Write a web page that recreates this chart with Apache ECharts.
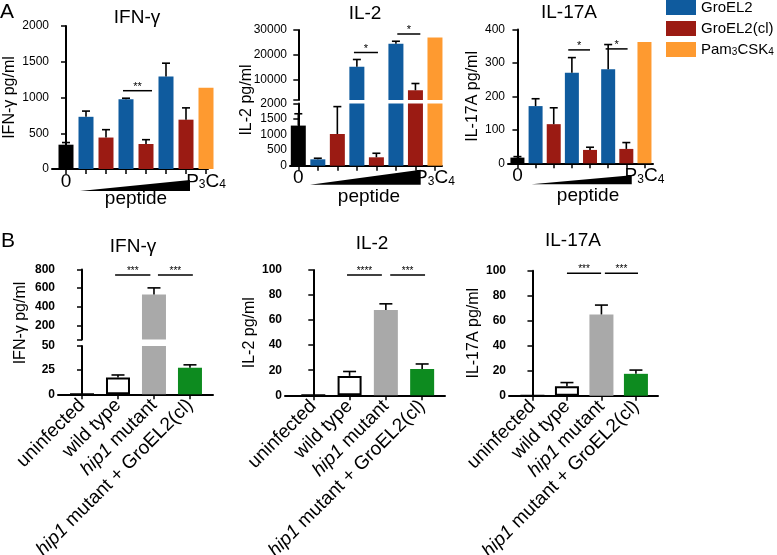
<!DOCTYPE html>
<html><head><meta charset="utf-8">
<script src="https://cdn.jsdelivr.net/npm/echarts@6/dist/echarts.min.js"></script>
<style>html,body{margin:0;padding:0;background:#fff}#c{width:777px;height:555px}</style>
</head><body><div id="c"></div>
<script>
// ---------------- data ----------------
const aCategories = ['0', '1', '2', '3', '4', '5', '6', 'P3C4'];
const aGroups = ['medium', 'GroEL2', 'GroEL2(cl)', 'GroEL2', 'GroEL2(cl)', 'GroEL2', 'GroEL2(cl)', 'Pam3CSK4'];
const ifngA = [340, 730, 440, 975, 350, 1295, 690, 1135];
const ifngAErr = [30, 80, 110, 15, 60, 185, 165, 0];
const il2A = [1290, 205, 1020, 15300, 270, 24500, 5900, 27000];
const il2AErr = [380, 35, 880, 2900, 130, 1000, 2700, 0];
const il17aA = [17, 171, 117, 271, 40, 281, 43, 363];
const il17aAErr = [3, 22, 49, 45, 8, 74, 19, 0];

const bCategories = ['uninfected', 'wild type', 'hip1 mutant', 'hip1 mutant + GroEL2(cl)'];
const bGroups = ['uninfected', 'wild type', 'hip1 mutant', 'complemented'];
const ifngB = [0, 17.5, 533, 27.5];
const ifngBErr = [0, 2.5, 70, 3];
const il2B = [0, 15.5, 68, 21];
const il2BErr = [0, 3.5, 5, 4];
const il17aB = [0, 7.5, 65, 17.5];
const il17aBErr = [0, 3, 7.5, 3];

const ifngATicks = [0, 500, 1000, 1500, 2000];
const il2ALowTicks = [0, 500, 1000, 1500, 2000];
const il2AHighTicks = [10000, 20000, 30000];
const il17aATicks = [0, 100, 200, 300, 400];
const ifngBLowTicks = [0, 25, 50];
const ifngBHighTicks = [200, 400, 600, 800];
const il2BTicks = [0, 20, 40, 60, 80, 100];
const il17aBTicks = [0, 20, 40, 60, 80, 100];

const legendNames = ['GroEL2', 'GroEL2(cl)', 'Pam3CSK4'];
const titlesA = ['IFN-γ', 'IL-2', 'IL-17A'];
const titlesB = ['IFN-γ', 'IL-2', 'IL-17A'];
const yNamesA = ['IFN-γ pg/ml', 'IL-2 pg/ml', 'IL-17A pg/ml'];
const yNamesB = ['IFN-γ pg/ml', 'IL-2 pg/ml', 'IL-17A pg/ml'];
const doseLabel = 'peptide';

const sigIfngA = [{from: 2.85, to: 4.3, y: 1095, text: '**'}];
const sigIl2A = [{from: 2.85, to: 4.08, y: 21000, text: '*'}, {from: 5.07, to: 6.25, y: 28400, text: '*'}];
const sigIl17aA = [{from: 2.8, to: 4.0, y: 339, text: '*'}, {from: 4.86, to: 6.07, y: 342, text: '*'}];
const sigIfngB = [{from: 0.92, to: 1.9, y: 740, text: '***'}, {from: 2.11, to: 3.08, y: 740, text: '***'}];
const sigIl2B = [{from: 0.93, to: 1.89, y: 96, text: '****'}, {from: 2.12, to: 3.08, y: 96, text: '***'}];
const sigIl17aB = [{from: 1.0, to: 1.99, y: 98, text: '***'}, {from: 2.1, to: 3.06, y: 98, text: '***'}];

// ---------------- layout & style ----------------
const FONT = "'Liberation Sans', Arial, sans-serif";
const COLORS_A = {
  'medium': {color: '#000000'},
  'GroEL2': {color: '#0f5b9e'},
  'GroEL2(cl)': {color: '#9b1b13'},
  'Pam3CSK4': {color: '#fe9a30'}
};
const STYLE_B = {
  'uninfected': {color: '#ffffff', borderColor: '#000', borderWidth: 2},
  'wild type': {color: '#ffffff', borderColor: '#000', borderWidth: 2},
  'hip1 mutant': {color: '#a9a9a9'},
  'complemented': {color: '#0d8b1f'}
};
const gridDefs = [
  {left: 52, top: 26, width: 156, height: 143},      // 0 A IFN-γ
  {left: 290, top: 103.5, width: 152, height: 62.2}, // 1 A IL-2 low
  {left: 290, top: 30, width: 152, height: 70},      // 2 A IL-2 high
  {left: 508, top: 29.5, width: 145, height: 133.8}, // 3 A IL-17A
  {left: 58, top: 346, width: 155, height: 48.3},    // 4 B IFN-γ low
  {left: 58, top: 269.5, width: 155, height: 70},    // 5 B IFN-γ high
  {left: 285, top: 270, width: 160, height: 125.3},  // 6 B IL-2
  {left: 509, top: 270.7, width: 149, height: 125}   // 7 B IL-17A
].map(gd => Object.assign({outerBoundsMode: 'none', containLabel: false}, gd));
const xRanges = [[-0.7, 7.1], [-0.425, 7.36], [-0.425, 7.36], [-0.52, 7.47],
                 [-0.667, 3.64], [-0.667, 3.64], [-0.78, 3.63], [-0.68, 3.64]];

const idx = arr => arr.map((_, i) => i);
const subA = s => s.replace(/([A-Z])(\d)/g, '$1{s|$2}');
const axisLineStyle = {color: '#000', width: 2};

function xAxA(gi) {
  return {
    type: 'value', gridIndex: gi, min: xRanges[gi][0], max: xRanges[gi][1],
    splitLine: {show: false},
    axisLine: {show: true, onZero: false, lineStyle: axisLineStyle},
    axisTick: {show: true, customValues: idx(aCategories), length: 5, lineStyle: {color: '#000', width: 1.5}},
    axisLabel: {
      customValues: [0, aCategories.length - 1], margin: 3, fontSize: 19, color: '#000', fontFamily: FONT,
      formatter: v => subA(aCategories[v]),
      rich: {s: {fontSize: 12, color: '#000', fontFamily: FONT, verticalAlign: 'bottom', lineHeight: 8}}
    }
  };
}
function xAxB(gi) {
  return {
    type: 'value', gridIndex: gi, min: xRanges[gi][0], max: xRanges[gi][1],
    splitLine: {show: false},
    axisLine: {show: true, onZero: false, lineStyle: axisLineStyle},
    axisTick: {show: true, customValues: idx(bCategories), length: 5, lineStyle: {color: '#000', width: 1.5}},
    axisLabel: {
      customValues: idx(bCategories), margin: 8, rotate: 45, fontSize: 19, color: '#000', fontFamily: FONT,
      formatter: v => bCategories[v].replace('hip1', '{i|hip1}'),
      rich: {i: {fontSize: 19, fontStyle: 'italic', color: '#000', fontFamily: FONT}}
    }
  };
}
function xHidden(gi) {
  return {type: 'value', gridIndex: gi, min: xRanges[gi][0], max: xRanges[gi][1], show: false};
}
function yAx(gi, min, max, labelVals, tickVals, bold, name, nameGap) {
  const o = {
    type: 'value', gridIndex: gi, min: min, max: max,
    splitLine: {show: false},
    axisLine: {show: true, lineStyle: axisLineStyle},
    axisTick: {show: true, customValues: tickVals, length: 5, lineStyle: {color: '#000', width: 1.5}},
    axisLabel: {customValues: labelVals, margin: 3, fontSize: 12, color: '#000', fontFamily: FONT,
                fontWeight: bold ? 'bold' : 'normal', formatter: v => String(v)}
  };
  if (name) {
    o.name = name; o.nameLocation = 'middle'; o.nameGap = nameGap; o.nameRotate = 90;
    o.nameTextStyle = {fontSize: 16, color: '#000', fontFamily: FONT};
  }
  return o;
}

function groupedBars(vals, groups, gi, width, styleMap) {
  const names = [...new Set(groups)];
  return names.map(g => ({
    type: 'bar', name: g, xAxisIndex: gi, yAxisIndex: gi, barWidth: width, barGap: '-100%',
    clip: true, silent: true, itemStyle: styleMap[g],
    data: vals.map((v, i) => groups[i] === g ? [i, v] : null).filter(d => d)
  }));
}
function errorBars(vals, errs, gi, capW, lo, hi) {
  const data = [];
  vals.forEach((v, i) => { if (errs[i] > 0 && v >= lo && v <= hi) data.push([i, v, errs[i]]); });
  return {
    type: 'custom', xAxisIndex: gi, yAxisIndex: gi, z: 5, silent: true,
    dimensions: ['x', 'y', 'err'], encode: {x: 0, y: 1}, data: data,
    renderItem: (params, api) => {
      const x = api.value(0), v = api.value(1), e = api.value(2);
      const a = api.coord([x, v]), b = api.coord([x, v + e]);
      const st = {stroke: '#000', lineWidth: 1.6};
      return {type: 'group', children: [
        {type: 'line', shape: {x1: a[0], y1: a[1], x2: b[0], y2: b[1]}, style: st},
        {type: 'line', shape: {x1: b[0] - capW / 2, y1: b[1], x2: b[0] + capW / 2, y2: b[1]}, style: st}
      ]};
    }
  };
}

const series = [].concat(
  groupedBars(ifngA, aGroups, 0, 15, COLORS_A),
  errorBars(ifngA, ifngAErr, 0, 8, 0, 2000),
  groupedBars(il2A, aGroups, 1, 15, COLORS_A),
  errorBars(il2A, il2AErr, 1, 8, 0, 2000),
  groupedBars(il2A, aGroups, 2, 15, COLORS_A),
  errorBars(il2A, il2AErr, 2, 8, 2000.01, 30000),
  groupedBars(il17aA, aGroups, 3, 14, COLORS_A),
  errorBars(il17aA, il17aAErr, 3, 8, 0, 400),
  groupedBars(ifngB, bGroups, 4, 24, STYLE_B),
  errorBars(ifngB, ifngBErr, 4, 13, 0, 50),
  groupedBars(ifngB, bGroups, 5, 24, STYLE_B),
  errorBars(ifngB, ifngBErr, 5, 13, 50.01, 800),
  groupedBars(il2B, bGroups, 6, 24, STYLE_B),
  errorBars(il2B, il2BErr, 6, 13, 0, 100),
  groupedBars(il17aB, bGroups, 7, 24, STYLE_B),
  errorBars(il17aB, il17aBErr, 7, 13, 0, 100)
);

const option = {
  animation: false,
  backgroundColor: '#fff',
  textStyle: {fontFamily: FONT},
  grid: gridDefs,
  legend: {
    data: legendNames, left: 666, top: 0, orient: 'vertical', padding: 0,
    itemWidth: 30, itemHeight: 15, itemGap: 6, icon: 'rect', selectedMode: false,
    textStyle: {fontSize: 15, color: '#000', fontFamily: FONT,
                rich: {s: {fontSize: 10, color: '#000', fontFamily: FONT, verticalAlign: 'bottom', lineHeight: 6}}},
    formatter: n => n.indexOf('Pam') === 0 ? n.replace(/([a-zA-Z])(\d)/g, '$1{s|$2}') : n
  },
  xAxis: [xAxA(0), xAxA(1), xHidden(2), xAxA(3), xAxB(4), xHidden(5), xAxB(6), xAxB(7)],
  yAxis: [
    yAx(0, 0, 2000, ifngATicks, ifngATicks, false, yNamesA[0], 34),
    yAx(1, 0, 2000, il2ALowTicks, il2ALowTicks, false),
    yAx(2, 2000, 30000, il2AHighTicks, [2000].concat(il2AHighTicks), false),
    yAx(3, 0, 400, il17aATicks, il17aATicks, false, yNamesA[2], 23),
    yAx(4, 0, 50, ifngBLowTicks, ifngBLowTicks, true),
    yAx(5, 50, 800, ifngBHighTicks, [50].concat(ifngBHighTicks), true),
    yAx(6, 0, 100, il2BTicks, il2BTicks, true, yNamesB[1], 24),
    yAx(7, 0, 100, il17aBTicks, il17aBTicks, true, yNamesB[2], 26)
  ],
  series: series
};

const chart = echarts.init(document.getElementById('c'), null, {renderer: 'canvas'});
chart.setOption(option);

// ---------------- annotations ----------------
const px = (gi, pt) => chart.convertToPixel({gridIndex: gi}, pt);
const g = [];
function txt(text, x, y, size, extra) {
  g.push(Object.assign({type: 'text', x: x, y: y, silent: true,
    style: {text: text, fontSize: size, fontFamily: FONT, fill: '#000', align: 'center', verticalAlign: 'middle'}}, extra || {}));
}
// panel letters & titles
txt('A', 7, 12, 21);
txt('B', 8, 241, 21);
txt(titlesA[0], 137, 18, 19);
txt(titlesA[1], 365, 13.5, 19);
txt(titlesA[2], 569, 13, 19);
txt(titlesB[0], 133, 246.5, 19);
txt(titlesB[1], 372, 243.5, 19);
txt(titlesB[2], 573, 240.5, 19);
// y names of broken axes
txt(yNamesA[1], 247, 100, 16, {rotation: Math.PI / 2});
txt(yNamesB[0], 21, 323, 16, {rotation: Math.PI / 2});

// significance
function sig(list, gi, fs) {
  list.forEach(s => {
    const p1 = px(gi, [s.from, s.y]), p2 = px(gi, [s.to, s.y]);
    g.push({type: 'line', silent: true, shape: {x1: p1[0], y1: p1[1], x2: p2[0], y2: p2[1]},
            style: {stroke: '#000', lineWidth: 1.5}});
    txt(s.text, (p1[0] + p2[0]) / 2, p1[1] - 4, fs);
  });
}
sig(sigIfngA, 0, 11); sig(sigIl2A, 2, 11); sig(sigIl17aA, 3, 11);
sig(sigIfngB, 5, 10); sig(sigIl2B, 6, 10); sig(sigIl17aB, 7, 10);

// dose wedges + label
const wedgeDefs = [
  {gi: 0, x1: 0.7, x2: 6.2, top: 11, bot: 22, lx: 3.5, ldy: 30},
  {gi: 1, x1: 0.6, x2: 6.27, top: 4, bot: 19, lx: 3.62, ldy: 31},
  {gi: 3, x1: 0.78, x2: 6.3, top: 12, bot: 21, lx: 3.89, ldy: 32.5}
];
wedgeDefs.forEach(w => {
  const L = px(w.gi, [w.x1, 0]), R = px(w.gi, [w.x2, 0]);
  g.push({type: 'polygon', silent: true,
          shape: {points: [[L[0], L[1] + w.bot], [R[0], R[1] + w.top], [R[0], R[1] + w.bot]]},
          style: {fill: '#000'}});
  const P = px(w.gi, [w.lx, 0]);
  txt(doseLabel, P[0], P[1] + w.ldy, 19);
});

chart.setOption({graphic: g});
</script>
</body></html>
